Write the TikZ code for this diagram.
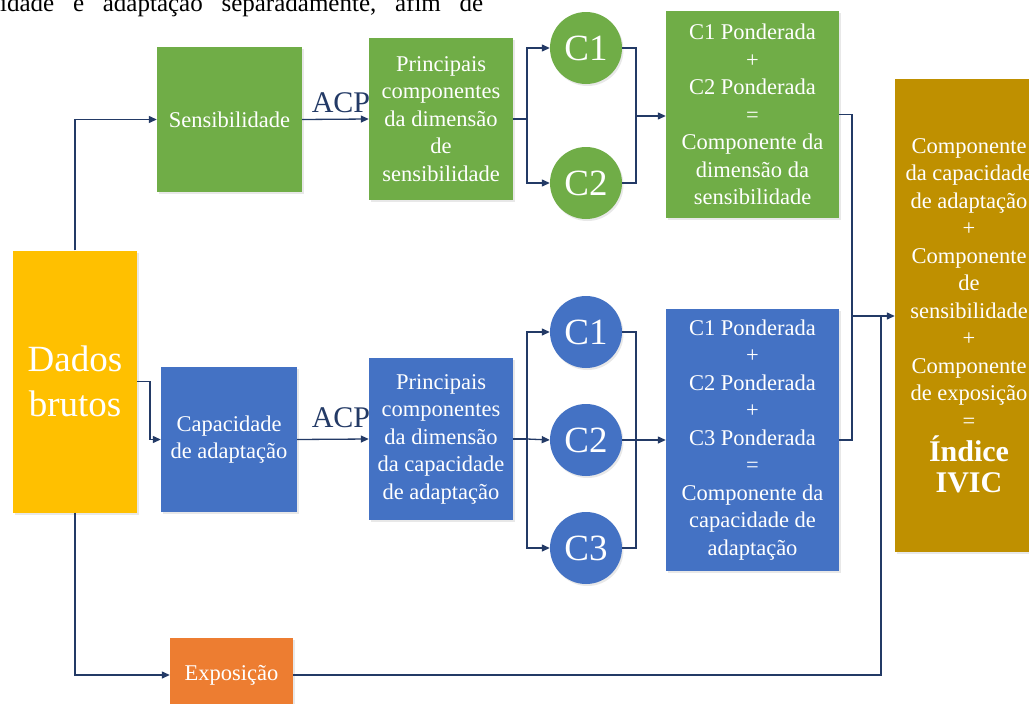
\documentclass[tikz,border=0pt]{standalone}
\usepackage{fontspec}
\setmainfont{Liberation Serif}
\usetikzlibrary{arrows.meta,shadows}
\definecolor{cgreen}{HTML}{70AD47}
\definecolor{cblue}{HTML}{4472C4}
\definecolor{cyellow}{HTML}{FFC000}
\definecolor{corange}{HTML}{ED7D31}
\definecolor{cgold}{HTML}{BF9000}
\definecolor{navy}{HTML}{233A66}
\begin{document}
\begin{tikzpicture}[x=1pt,y=-1pt,
  box/.style={rectangle, draw=none, text=white, align=center, inner sep=0pt,
    font=\fontsize{22.5}{27.5}\selectfont,
    drop shadow={opacity=0.18, shadow xshift=1.5pt, shadow yshift=-2pt}},
  circ/.style={circle, minimum size=72pt, inner sep=0pt, text=white,
    font=\fontsize{37}{40}\selectfont,
    drop shadow={opacity=0.18, shadow xshift=1.5pt, shadow yshift=-2pt}},
  conn/.style={draw=navy, line width=1.3pt},
  arr/.style={conn, -{Triangle[length=8pt,width=7pt]}},
  acplabel/.style={text=navy, inner sep=0pt, font=\fontsize{30}{34}\selectfont, anchor=base}
]
\useasboundingbox (0,0) rectangle (1029,704);
\clip (0,0) rectangle (1029,704);
\fill[white] (0,0) rectangle (1029,704);

% partial text line of the page above
\node[anchor=base west, inner sep=0pt, font=\fontsize{25}{30}\selectfont] (toptext) at (0,12)
  {\hbox to 483pt{idade\hfill e\hfill adaptação\hfill separadamente,\hfill afim\hfill de}};

% boxes
\node[box, fill=cyellow, minimum width=124pt, minimum height=262pt,
  font=\fontsize{37}{45}\selectfont] (dados) at (75,381.5) {Dados\\brutos};
\node[box, fill=cgreen, minimum width=145pt, minimum height=145pt] (sens) at (229.5,119.5) {Sensibilidade};
\node[box, fill=cblue, minimum width=136pt, minimum height=145pt] (cap) at (229,439.5) {Capacidade\\de adaptação};
\node[box, fill=corange, minimum width=123pt, minimum height=74pt] (expo) at (231.5,675) {Exposição};

\node[box, fill=cgreen, minimum width=144pt, minimum height=162pt] (p1) at (441,119)
  {Principais\\componentes\\da dimensão\\de\\sensibilidade};
\node[box, fill=cblue, minimum width=144pt, minimum height=162pt] (p2) at (441,439)
  {Principais\\componentes\\da dimensão\\da capacidade\\de adaptação};

\node[circ, fill=cgreen] (gc1) at (586,48) {C1};
\node[circ, fill=cgreen] (gc2) at (586,183) {C2};
\node[circ, fill=cblue] (bc1) at (586,332) {C1};
\node[circ, fill=cblue] (bc2) at (586,440) {C2};
\node[circ, fill=cblue] (bc3) at (586,548) {C3};

\node[box, fill=cgreen, minimum width=173pt, minimum height=207pt] (pond1) at (752.5,114.5)
  {C1 Ponderada\\+\\C2 Ponderada\\=\\Componente da\\dimensão da\\sensibilidade};
\node[box, fill=cblue, minimum width=173pt, minimum height=262pt] (pond2) at (752.5,440)
  {C1 Ponderada\\+\\C2 Ponderada\\+\\C3 Ponderada\\=\\Componente da\\capacidade de\\adaptação};

\node[box, fill=cgold, minimum width=148pt, minimum height=473pt] (ivic) at (969,315.5)
  {Componente\\da capacidade\\de adaptação\\+\\Componente\\de\\sensibilidade\\+\\Componente\\de exposição\\=\\[6pt]{\fontsize{30}{36}\selectfont\bfseries Índice}\\[3pt]{\fontsize{30}{36}\selectfont\bfseries IVIC}};

% ACP labels
\node[acplabel] (acp1) at (341,112) {ACP};
\node[acplabel] (acp2) at (341,427) {ACP};

% coordinates
\coordinate (gsplit) at (527,119);
\coordinate (gjoin) at (636,116);
\coordinate (bsplit) at (527,439);
\coordinate (bjoin) at (636,440);
\coordinate (rjoin) at (852,316);
\coordinate (ejoin) at (881,316);
\coordinate (dsplit) at (150,381.5);

% connectors from raw data
\draw[arr] (dados.north) |- (sens.west);
\draw[arr] (dados.east) -- (dsplit) |- (cap.west);
\draw[arr] (dados.south) |- (expo.west);

% ACP arrows
\draw[arr] (sens.east) -- (p1.west);
\draw[arr] (cap.east) -- (p2.west);

% green branch
\draw[conn] (p1.east) -- (gsplit);
\draw[arr] (gsplit) |- (gc1.west);
\draw[arr] (gsplit) |- (gc2.west);
\draw[conn] (gc1.east) -| (gjoin);
\draw[conn] (gc2.east) -| (gjoin);
\draw[arr] (gjoin) -- (gjoin -| pond1.west);

% blue branch
\draw[conn] (p2.east) -- (bsplit);
\draw[arr] (bsplit) |- (bc1.west);
\draw[arr] (bsplit) -- (bc2.west);
\draw[arr] (bsplit) |- (bc3.west);
\draw[conn] (bc1.east) -| (bjoin);
\draw[conn] (bc3.east) -| (bjoin);
\draw[arr] (bc2.east) -- (pond2.west);

% to final index
\draw[conn] (pond1.east) -| (rjoin);
\draw[conn] (pond2.east) -| (rjoin);
\draw[arr] (rjoin) -- (rjoin -| ivic.west);
\draw[conn] (expo.east) -| (ejoin);
\end{tikzpicture}
\end{document}
